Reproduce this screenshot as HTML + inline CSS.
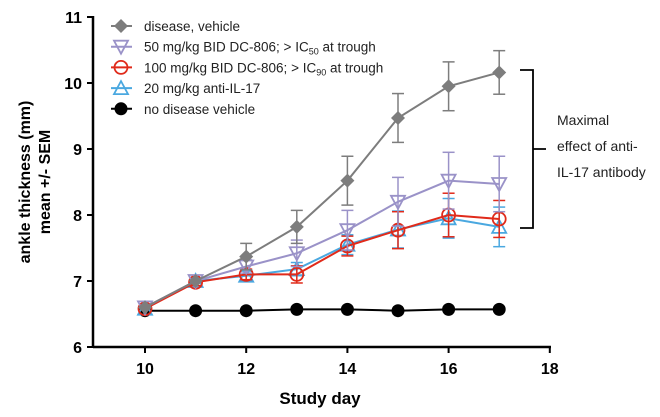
<!DOCTYPE html>
<html><head><meta charset="utf-8"><style>
body{margin:0;background:#fff;font-family:"Liberation Sans",Arial,sans-serif}
</style></head><body>
<svg id="c" width="660" height="412" xmlns="http://www.w3.org/2000/svg" font-family="Liberation Sans, Arial, sans-serif"></svg>
<script>
const days=[10,11,12,13,14,15,16,17];
const disease=[6.6,7.0,7.37,7.82,8.52,9.47,9.95,10.16];
const diseaseErr=[0,0,0.2,0.25,0.37,0.37,0.37,0.33];
const dc50=[6.6,7.0,7.22,7.42,7.77,8.2,8.52,8.47];
const dc50Err=[0,0,0.1,0.2,0.3,0.37,0.43,0.42];
const dc100=[6.58,6.98,7.1,7.1,7.53,7.77,8.0,7.94];
const dc100Err=[0,0.05,0.08,0.13,0.15,0.28,0.33,0.28];
const il17=[6.58,7.0,7.08,7.18,7.55,7.78,7.95,7.82];
const il17Err=[0,0.03,0.07,0.1,0.15,0.28,0.3,0.3];
const nodis=[6.55,6.55,6.55,6.57,6.57,6.55,6.57,6.57];
const nodisErr=[0,0,0,0,0,0,0,0];
const xTicks=[10,12,14,16,18];
const yTicks=[6,7,8,9,10,11];
const X=d=>145+(d-10)*50.6, Y=v=>347-(v-6)*66;
const svg=document.getElementById('c');const NS='http://www.w3.org/2000/svg';
function el(t,a,p){const e=document.createElementNS(NS,t);for(const k in a)e.setAttribute(k,a[k]);(p||svg).appendChild(e);return e;}
let ax=el('line',{x1:93,y1:347,x2:551,y2:347,stroke:'#000','stroke-width':2.5});

let ay=el('line',{x1:93,y1:16,x2:93,y2:348,stroke:'#000','stroke-width':2.5});

xTicks.forEach(t=>{el('line',{x1:X(t),y1:347,x2:X(t),y2:353,stroke:'#000','stroke-width':2});
 const tx=el('text',{x:X(t),y:374,'text-anchor':'middle','font-size':16,'font-weight':'bold'});tx.textContent=t;
 });
yTicks.forEach(t=>{el('line',{x1:87,y1:Y(t),x2:93,y2:Y(t),stroke:'#000','stroke-width':2});
 const tx=el('text',{x:82,y:Y(t)+6,'text-anchor':'end','font-size':16,'font-weight':'bold'});tx.textContent=t;
 });
let xt=el('text',{x:320,y:404,'text-anchor':'middle','font-size':17,'font-weight':'bold'});xt.textContent='Study day';

let yt=el('text',{transform:'translate(30,182) rotate(-90)','text-anchor':'middle','font-size':16,'font-weight':'bold'});yt.textContent='ankle thickness (mm)';

let yt2=el('text',{transform:'translate(50,182) rotate(-90)','text-anchor':'middle','font-size':16,'font-weight':'bold'});yt2.textContent='mean +/- SEM';

function marker(type,x,y,col,g){
 if(type==='diamond')el('polygon',{points:`${x},${y-7} ${x+7},${y} ${x},${y+7} ${x-7},${y}`,fill:col},g);
 else if(type==='down')el('polygon',{points:`${x-7},${y-6} ${x+7},${y-6} ${x},${y+7}`,fill:'none',stroke:col,'stroke-width':1.8},g);
 else if(type==='up')el('polygon',{points:`${x-7},${y+6} ${x+7},${y+6} ${x},${y-7}`,fill:'none',stroke:col,'stroke-width':1.8},g);
 else if(type==='circle')el('circle',{cx:x,cy:y,r:6.5,fill:'none',stroke:col,'stroke-width':1.8},g);
 else if(type==='dot')el('circle',{cx:x,cy:y,r:6.5,fill:col},g);
}
const series=[
 {n:'series-no-disease',v:nodis,e:nodisErr,c:'#000',m:'dot'},
 {n:'series-anti-il17',v:il17,e:il17Err,c:'#4aa8e0',m:'up'},
 {n:'series-dc806-100',v:dc100,e:dc100Err,c:'#e02a1a',m:'circle'},
 {n:'series-dc806-50',v:dc50,e:dc50Err,c:'#9a92c8',m:'down'},
 {n:'series-disease-vehicle',v:disease,e:diseaseErr,c:'#7d7d7d',m:'diamond'}];
series.forEach(s=>{
 const g=el('g',{});
 s.v.forEach((v,i)=>{if(s.e[i]>0){const x=X(days[i]);
  el('line',{x1:x,y1:Y(v+s.e[i]),x2:x,y2:Y(v-s.e[i]),stroke:s.c,'stroke-width':1.5},g);
  [v+s.e[i],v-s.e[i]].forEach(w=>el('line',{x1:x-6,y1:Y(w),x2:x+6,y2:Y(w),stroke:s.c,'stroke-width':1.5},g));}});
 el('polyline',{points:s.v.map((v,i)=>X(days[i])+','+Y(v)).join(' '),fill:'none',stroke:s.c,'stroke-width':2},g);
 s.v.forEach((v,i)=>marker(s.m,X(days[i]),Y(v),s.c,g));
});
const leg=[['disease, vehicle','#7d7d7d','diamond'],['50 mg/kg BID DC-806; > IC<50> at trough','#9a92c8','down'],['100 mg/kg BID DC-806; > IC<90> at trough','#e02a1a','circle'],['20 mg/kg anti-IL-17','#4aa8e0','up'],['no disease vehicle','#000','dot']];
leg.forEach((l,i)=>{const y=26+i*20.7;const g=el('g',{});
 
 el('line',{x1:111,y1:y,x2:132,y2:y,stroke:l[1],'stroke-width':2},g);marker(l[2],121,y,l[1],g);
 const t=el('text',{x:144,y:y+5,'font-size':13.5,fill:'#222'},g);
 const m=l[0].match(/(.*)IC<(\d+)>(.*)/);
 if(m){t.appendChild(document.createTextNode(m[1]+'IC'));const s=el('tspan',{'font-size':9,dy:3},t);s.textContent=m[2];const r=el('tspan',{dy:-3},t);r.textContent=m[3];}
 else t.textContent=l[0];});
const br=el('path',{d:'M520,70 H533 V228 H520 M533,149 H546',fill:'none',stroke:'#000','stroke-width':1.8});

['Maximal','effect of anti-','IL-17 antibody'].forEach((s,i)=>{const t=el('text',{x:557,y:125+i*26,'font-size':14,fill:'#222'});t.textContent=s;
 });
</script>
</body></html>
